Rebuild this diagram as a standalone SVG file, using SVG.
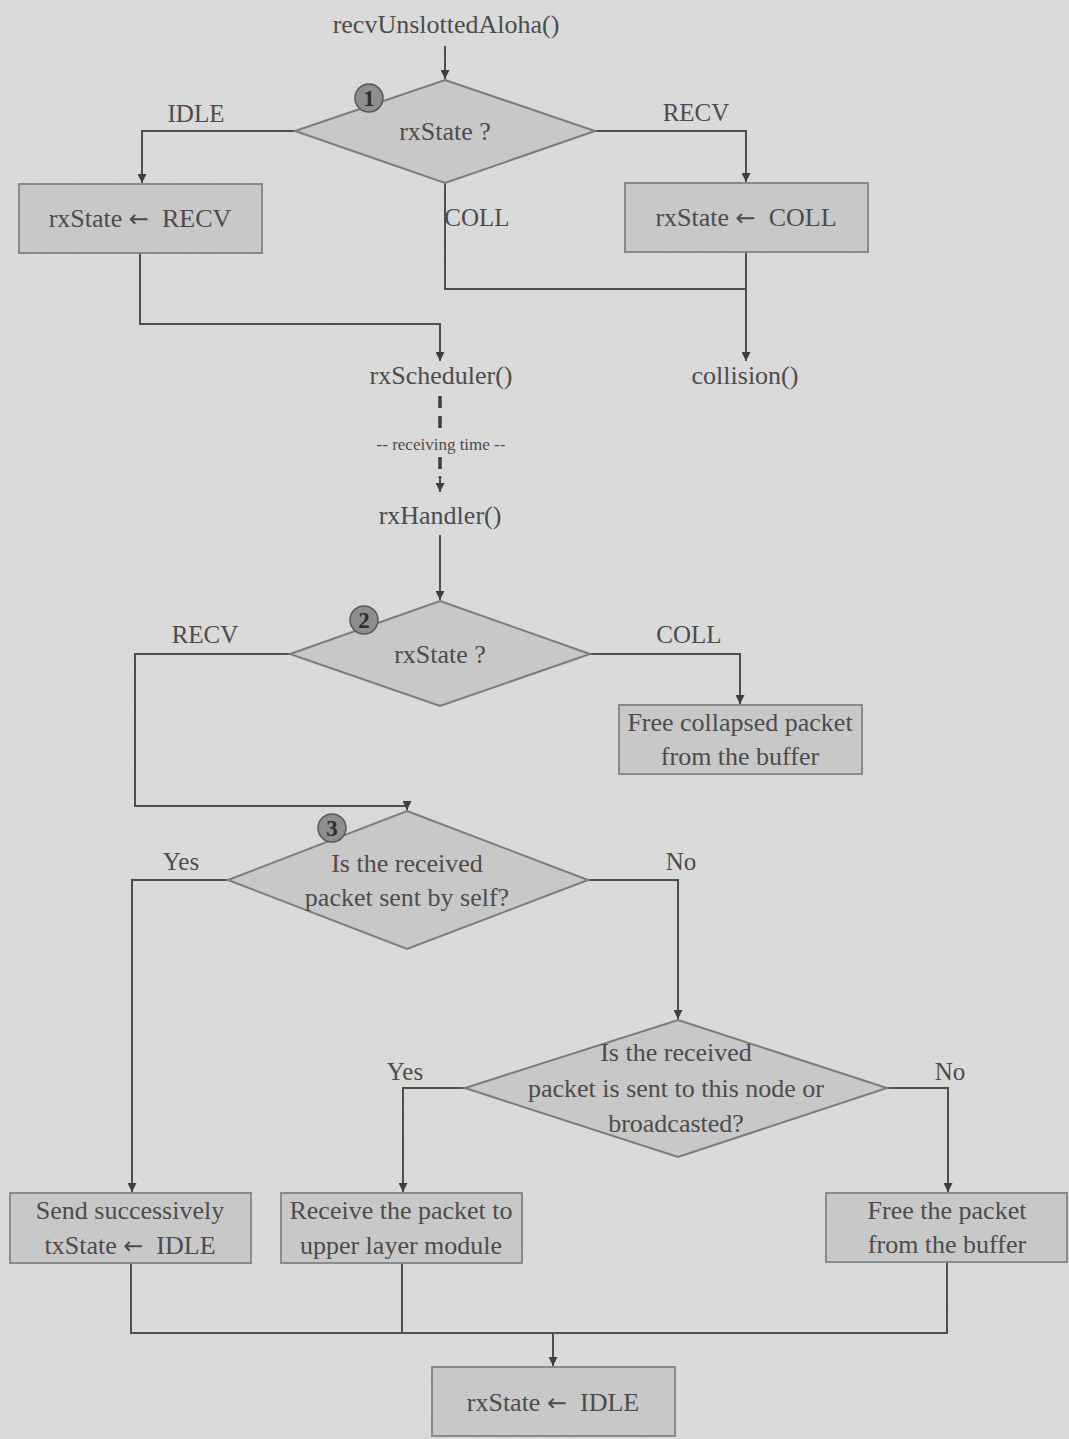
<svg xmlns="http://www.w3.org/2000/svg" width="1069" height="1439" viewBox="0 0 1069 1439">
  <defs>
    <marker id="arrow" viewBox="0 0 10 10" refX="10" refY="5" markerWidth="11" markerHeight="9" markerUnits="userSpaceOnUse" orient="auto">
      <path d="M0,0 L10,5 L0,10 z" fill="#3e3e3e"/>
    </marker>
    <filter id="grain" x="0" y="0" width="100%" height="100%">
      <feTurbulence type="fractalNoise" baseFrequency="0.9" numOctaves="2" seed="4" result="n"/>
      <feColorMatrix in="n" type="matrix" values="0 0 0 0 0.5  0 0 0 0 0.5  0 0 0 0 0.5  0 0 0 0.09 0"/>
    </filter>
    <style>
      text { font-family: "Liberation Serif", "Times New Roman", serif; fill: #4c4c4c; }
      .t { font-size: 26px; text-anchor: middle; }
      .lbl { font-size: 25px; text-anchor: middle; }
      .small { font-size: 17px; text-anchor: middle; }
      .arr { font-family: "DejaVu Sans", sans-serif; font-size: 24px; }
      .box { fill: #c8c8c8; stroke: #8a8a8a; stroke-width: 2; }
      .dia { fill: #c8c8c8; stroke: #7c7c7c; stroke-width: 2; }
      .badge { fill: #8e8e8e; stroke: #5a5a5a; stroke-width: 1.5; }
      .badge-num { font-size: 23px; font-weight: bold; text-anchor: middle; fill: #2e2e2e; }
      .conn { fill: none; stroke: #4e4e4e; stroke-width: 2; }
      .dash { fill: none; stroke: #3e3e3e; stroke-width: 3.5; stroke-dasharray: 12 8; }
    </style>
  </defs>

  <!-- paper background -->
  <rect x="0" y="0" width="1069" height="1439" fill="#dbdbdb"/>
  <rect x="0" y="0" width="1069" height="1439" filter="url(#grain)"/>

  <!-- connectors -->
  <g id="connectors">
    <path class="conn" d="M445,46 V79" marker-end="url(#arrow)"/>
    <path class="conn" d="M295,131 H142 V183" marker-end="url(#arrow)"/>
    <path class="conn" d="M595,131 H746 V182" marker-end="url(#arrow)"/>
    <path class="conn" d="M445,183 V289 H746"/>
    <path class="conn" d="M746,252 V361" marker-end="url(#arrow)"/>
    <path class="conn" d="M140,254 V324 H440 V361" marker-end="url(#arrow)"/>
    <path class="dash" d="M440,396 V434"/>
    <path class="dash" d="M440,457 V478"/>
    <path class="conn" d="M440,476 V492" marker-end="url(#arrow)"/>
    <path class="conn" d="M440,535 V600" marker-end="url(#arrow)"/>
    <path class="conn" d="M290,654 H135 V806 H407 V810" marker-end="url(#arrow)"/>
    <path class="conn" d="M590,654 H740 V704" marker-end="url(#arrow)"/>
    <path class="conn" d="M228,880 H132 V1192" marker-end="url(#arrow)"/>
    <path class="conn" d="M588,880 H678 V1019" marker-end="url(#arrow)"/>
    <path class="conn" d="M465,1088 H403 V1192" marker-end="url(#arrow)"/>
    <path class="conn" d="M887,1088 H948 V1192" marker-end="url(#arrow)"/>
    <path class="conn" d="M131,1263 V1333 H947 V1263"/>
    <path class="conn" d="M402,1263 V1333"/>
    <path class="conn" d="M553,1333 V1366" marker-end="url(#arrow)"/>
  </g>

  <!-- branch labels -->
  <g id="labels">
    <text class="lbl" x="196" y="122">IDLE</text>
    <text class="lbl" x="696" y="121">RECV</text>
    <text class="lbl" x="477" y="226">COLL</text>
    <text class="lbl" x="205" y="643">RECV</text>
    <text class="lbl" x="689" y="643">COLL</text>
    <text class="lbl" x="181" y="870">Yes</text>
    <text class="lbl" x="681" y="870">No</text>
    <text class="lbl" x="405" y="1080">Yes</text>
    <text class="lbl" x="950" y="1080">No</text>
  </g>

  <g id="entry">
    <text class="t" x="446" y="33">recvUnslottedAloha()</text>
  </g>

  <g id="decision1">
    <polygon class="dia" points="445,80 595,131 445,183 295,131"/>
    <text class="t" x="445" y="140">rxState ?</text>
    <circle class="badge" cx="369" cy="98" r="14"/>
    <text class="badge-num" x="369" y="106">1</text>
  </g>

  <g id="setRecv">
    <rect class="box" x="19" y="184" width="243" height="69"/>
    <text class="t" x="140" y="227" xml:space="preserve">rxState <tspan class="arr">←</tspan>  RECV</text>
  </g>

  <g id="setColl">
    <rect class="box" x="625" y="183" width="243" height="69"/>
    <text class="t" x="746" y="226" xml:space="preserve">rxState <tspan class="arr">←</tspan>  COLL</text>
  </g>

  <g id="rxScheduler">
    <text class="t" x="441" y="384">rxScheduler()</text>
  </g>

  <g id="collision">
    <text class="t" x="745" y="384">collision()</text>
  </g>

  <g id="receivingTime">
    <text class="small" x="441" y="450">-- receiving time --</text>
  </g>

  <g id="rxHandler">
    <text class="t" x="440" y="524">rxHandler()</text>
  </g>

  <g id="decision2">
    <polygon class="dia" points="440,601 590,654 440,706 290,654"/>
    <text class="t" x="440" y="663">rxState ?</text>
    <circle class="badge" cx="364" cy="620" r="14"/>
    <text class="badge-num" x="364" y="628">2</text>
  </g>

  <g id="freeCollapsed">
    <rect class="box" x="619" y="705" width="243" height="69"/>
    <text class="t" x="740" y="731">Free collapsed packet</text>
    <text class="t" x="740" y="765">from the buffer</text>
  </g>

  <g id="decision3">
    <polygon class="dia" points="407,811 588,880 407,949 228,880"/>
    <text class="t" x="407" y="872">Is the received</text>
    <text class="t" x="407" y="906">packet sent by self?</text>
    <circle class="badge" cx="332" cy="828" r="14"/>
    <text class="badge-num" x="332" y="836">3</text>
  </g>

  <g id="decision4">
    <polygon class="dia" points="678,1020 887,1088 678,1157 465,1088"/>
    <text class="t" x="676" y="1061">Is the received</text>
    <text class="t" x="676" y="1097">packet is sent to this node or</text>
    <text class="t" x="676" y="1132">broadcasted?</text>
  </g>

  <g id="sendSuccess">
    <rect class="box" x="10" y="1193" width="241" height="70"/>
    <text class="t" x="130" y="1219">Send successively</text>
    <text class="t" x="130" y="1254" xml:space="preserve">txState <tspan class="arr">←</tspan>  IDLE</text>
  </g>

  <g id="receiveUpper">
    <rect class="box" x="281" y="1193" width="241" height="70"/>
    <text class="t" x="401" y="1219">Receive the packet to</text>
    <text class="t" x="401" y="1254">upper layer module</text>
  </g>

  <g id="freePacket">
    <rect class="box" x="826" y="1193" width="241" height="69"/>
    <text class="t" x="947" y="1219">Free the packet</text>
    <text class="t" x="947" y="1253">from the buffer</text>
  </g>

  <g id="setIdle">
    <rect class="box" x="432" y="1367" width="243" height="69"/>
    <text class="t" x="553" y="1411" xml:space="preserve">rxState <tspan class="arr">←</tspan>  IDLE</text>
  </g>
</svg>
